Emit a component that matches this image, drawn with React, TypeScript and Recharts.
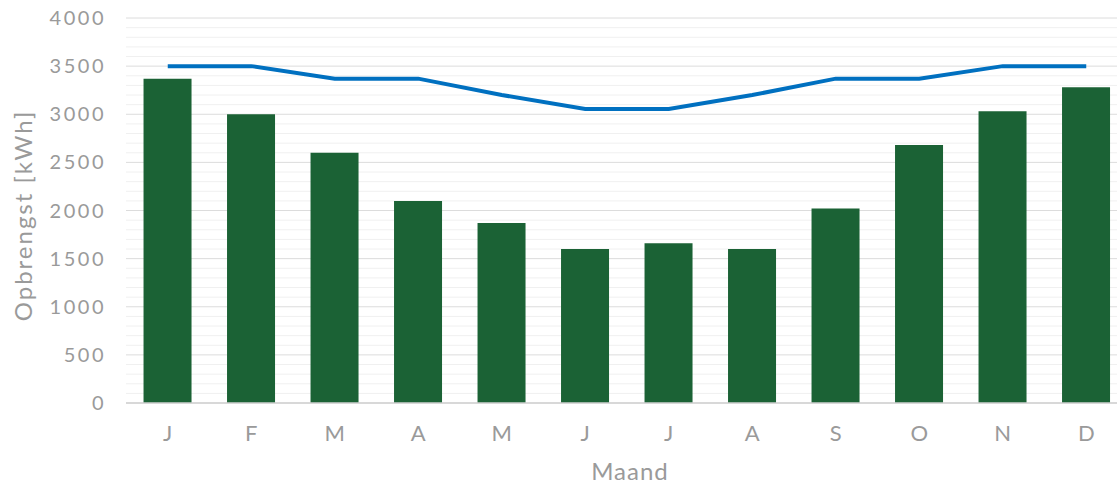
import { ComposedChart, Bar, Line, XAxis, YAxis, CartesianGrid } from 'recharts';

const MONTHS = ['J', 'F', 'M', 'A', 'M', 'J', 'J', 'A', 'S', 'O', 'N', 'D'];
const YIELD = [3370, 3000, 2600, 2100, 1870, 1600, 1660, 1600, 2020, 2680, 3030, 3280];
const NEED = [3500, 3500, 3370, 3370, 3200, 3055, 3055, 3200, 3370, 3370, 3500, 3500];
const Y_MAX = 4000;
const Y_TICKS = [0, 500, 1000, 1500, 2000, 2500, 3000, 3500, 4000];
const MINOR_TICKS = [100, 200, 300, 400, 600, 700, 800, 900, 1100, 1200, 1300, 1400, 1600, 1700, 1800, 1900,
  2100, 2200, 2300, 2400, 2600, 2700, 2800, 2900, 3100, 3200, 3300, 3400, 3600, 3700, 3800, 3900];

const data = MONTHS.map((m, i) => ({ key: i, month: m, yield: YIELD[i], need: NEED[i] }));

const FONT = 'Lato, "Open Sans", sans-serif';
const GREY = '#9a9a9a';

// minor gridlines every 100 kWh
const minorLines = (props: any) => {
  const s = props?.yAxis?.scale;
  if (typeof s === 'function') return MINOR_TICKS.map((v) => s(v));
  if (s && typeof s.map === 'function') return MINOR_TICKS.map((v) => s.map(v));
  const { top, height } = props.offset;
  return MINOR_TICKS.map((v) => top + height * (1 - v / Y_MAX));
};

const App = () => {
  return (
    <div style={{ position: 'absolute', left: 0, top: 0, width: 1117, height: 486, overflow: 'hidden', background: '#fff' }}>
      <ComposedChart width={1117} height={486} data={data} margin={{ top: 18, right: -11, left: 1, bottom: 0 }} barCategoryGap="21%">
        <CartesianGrid vertical={false} stroke="#f0f0f0" strokeWidth={1} horizontalCoordinatesGenerator={minorLines} />
        <CartesianGrid vertical={false} stroke="#dcdcdc" strokeWidth={1} />
        <XAxis
          dataKey="key"
          tickFormatter={(i) => MONTHS[i]}
          height={83}
          tickLine={false}
          tickSize={0}
          tickMargin={22}
          axisLine={{ stroke: '#d0d0d0', strokeWidth: 1.5 }}
          tick={{ fill: GREY, fontSize: 22, fontFamily: FONT }}
          label={{ value: 'Maand', position: 'insideBottom', offset: 6, dx: 3, fill: GREY, fontSize: 24, fontFamily: FONT, style: { letterSpacing: 1 } }}
        />
        <YAxis
          width={125}
          domain={[0, Y_MAX]}
          ticks={Y_TICKS}
          interval={0}
          axisLine={false}
          tickLine={false}
          tickSize={0}
          tickMargin={20}
          tick={{ fill: GREY, fontSize: 20, fontFamily: FONT, letterSpacing: 2.5 }}
          label={{ value: 'Opbrengst [kWh]', angle: -90, position: 'insideLeft', offset: 22, dy: 5, fill: GREY, fontSize: 24, fontFamily: FONT, style: { textAnchor: 'middle', letterSpacing: 2 } }}
        />
        <Bar dataKey="yield" fill="#1b6235" isAnimationActive={false} />
        <Line dataKey="need" stroke="#0070c0" strokeWidth={4} dot={false} type="linear" isAnimationActive={false} />
      </ComposedChart>
    </div>
  );
};

export default App;
